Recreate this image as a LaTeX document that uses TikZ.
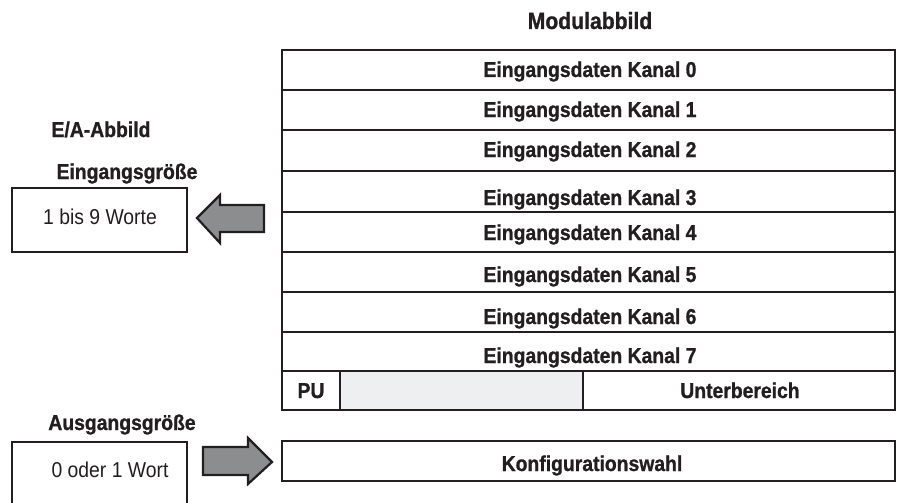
\documentclass[tikz,border=0pt]{standalone}
\usepackage{fontspec}
\setmainfont{Liberation Sans}[FakeStretch=0.9, BoldFeatures={FakeBold=1}]
\definecolor{ink}{HTML}{231F20}
\definecolor{arrowgray}{HTML}{8C8D8F}
\definecolor{reserved}{HTML}{EEEFF0}
\begin{document}
\begin{tikzpicture}[x=1pt,y=-1pt,
  every node/.style={inner sep=0pt, outer sep=0pt},
  cellbox/.style={draw=ink, line width=2.2pt, rectangle, anchor=north west, minimum width=613pt},
  sizebox/.style={draw=ink, line width=2.2pt, rectangle, anchor=north west, minimum width=175pt},
  lbl/.style={anchor=base, text=ink, font=\fontsize{21.5}{24}\selectfont\bfseries},
  txt/.style={anchor=base, text=ink, font=\fontsize{21.5}{24}\selectfont},
  blockarrow/.style={draw=ink, line width=2.2pt, fill=arrowgray, line join=miter}
]
\clip (0,0) rectangle (902,503);
\fill[white] (0,0) rectangle (902,503);

% Modulabbild: input rows
\node[cellbox, minimum height=40pt] (c0) at (282,50) {};
\node[cellbox, minimum height=40pt] (c1) at (282,90) {};
\node[cellbox, minimum height=41pt] (c2) at (282,130) {};
\node[cellbox, minimum height=41pt] (c3) at (282,171) {};
\node[cellbox, minimum height=40pt] (c4) at (282,212) {};
\node[cellbox, minimum height=40pt] (c5) at (282,252) {};
\node[cellbox, minimum height=40pt] (c6) at (282,292) {};
\node[cellbox, minimum height=39pt] (c7) at (282,332) {};

% status row: PU, reserved area, Unterbereich
\node[cellbox, minimum height=39pt, minimum width=58pt] (pu) at (282,371) {};
\node[cellbox, minimum height=39pt, minimum width=243pt, fill=reserved, line width=1.2pt] (res) at (340,371) {};
\node[cellbox, minimum height=39pt, minimum width=312pt] (sub) at (583,371) {};
\draw[ink, line width=2.2pt] (pu.north west) rectangle (sub.south east);
\draw[ink, line width=2.2pt] (pu.north east) -- (pu.south east);

% configuration row
\node[cellbox, minimum height=40pt] (cfg) at (282,441) {};

% I/O image boxes
\node[sizebox, minimum height=64pt] (inbox) at (12,188) {};
\node[sizebox, minimum height=80pt] (outbox) at (12,442) {};

% texts
\node[lbl, font=\fontsize{23.5}{26}\selectfont\bfseries] (tmod) at (590,29) {Modulabbild};
\node[lbl] (t0) at (590,77) {Eingangsdaten Kanal 0};
\node[lbl] (t1) at (590,117) {Eingangsdaten Kanal 1};
\node[lbl] (t2) at (590,157) {Eingangsdaten Kanal 2};
\node[lbl] (t3) at (590,205) {Eingangsdaten Kanal 3};
\node[lbl] (t4) at (590,240) {Eingangsdaten Kanal 4};
\node[lbl] (t5) at (590,282) {Eingangsdaten Kanal 5};
\node[lbl] (t6) at (590,324) {Eingangsdaten Kanal 6};
\node[lbl] (t7) at (590,363) {Eingangsdaten Kanal 7};
\node[lbl] (tpu) at (311,398) {PU};
\node[lbl] (tsub) at (740,398) {Unterbereich};
\node[lbl] (tcfg) at (592,471) {Konfigurationswahl};

\node[lbl] (tea) at (101,137) {E/A-Abbild};
\node[lbl] (tin) at (127,179) {Eingangsgröße};
\node[lbl] (tout) at (122,430) {Ausgangsgröße};
\node[txt] (tinw) at (100,224) {1 bis 9 Worte};
\node[txt] (toutw) at (110,477) {0 oder 1 Wort};

% block arrows: module image -> input size, output size -> configuration
\draw[blockarrow] (197,218) -- (220,195) -- (220,205) -- (264,205)
  -- (264,232) -- (220,232) -- (220,243) -- cycle;
\draw[blockarrow] (272,462) -- (248,438) -- (248,447) -- (203,447)
  -- (203,475) -- (248,475) -- (248,484) -- cycle;
\end{tikzpicture}
\end{document}
